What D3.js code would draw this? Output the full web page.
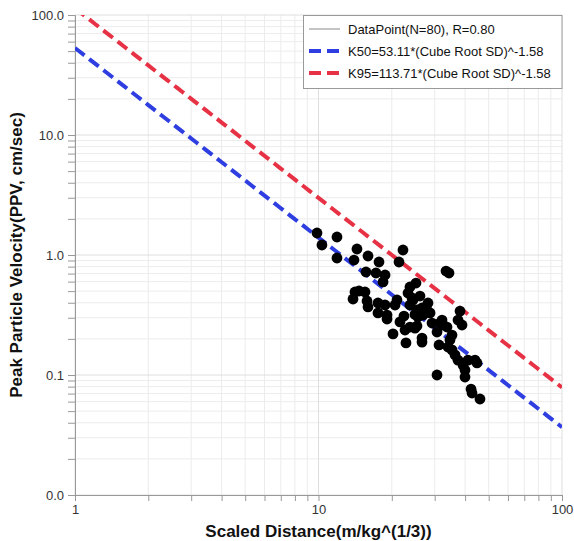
<!DOCTYPE html>
<html><head><meta charset="utf-8">
<script src="https://cdn.jsdelivr.net/npm/d3@7"></script>
<style>body{margin:0;background:#fff;} svg{font-family:"Liberation Sans",Arial,sans-serif;}</style>
</head><body>
<svg id="c" width="574" height="541"></svg>
<script>
const sdValues = [9.86,10.33,11.91,11.91,14.39,13.99,15.97,17.72,15.67,17.22,18.76,18.41,14.12,14.67,15.52,13.86,15.82,15.97,17.55,17.55,19.12,19.12,20.62,21.01,22.23,21.41,23.75,25.14,23.31,24.21,21.61,20.23,22.66,23.75,24.91,25.38,26.61,27.90,28.71,26.87,25.62,29.26,30.67,26.61,22.87,25.38,33.39,34.35,38.12,32.15,32.46,37.41,38.85,35.34,34.03,35.34,36.36,37.41,39.22,39.96,39.96,43.93,44.76,42.30,42.70,46.04,30.67,31.26,26.61,23.75,24.44,31.55,33.71,41.11,28.16,26.11,22.44,34.67,18.76,24.91];
const ppvValues = [1.525,1.211,1.413,0.944,1.122,0.908,0.981,0.874,0.722,0.708,0.681,0.596,0.492,0.501,0.492,0.430,0.414,0.369,0.398,0.329,0.316,0.293,0.383,0.422,1.101,0.874,0.541,0.584,0.482,0.438,0.277,0.220,0.237,0.251,0.246,0.348,0.362,0.348,0.329,0.316,0.304,0.271,0.228,0.203,0.185,0.256,0.735,0.708,0.341,0.287,0.261,0.287,0.261,0.215,0.171,0.162,0.147,0.133,0.121,0.110,0.0962,0.133,0.126,0.0764,0.0708,0.0631,0.100,0.178,0.188,0.383,0.422,0.271,0.251,0.133,0.398,0.455,0.310,0.196,0.383,0.320];
const fitK = [53.11, 113.71];
const fitExp = -1.58;
const fitNames = ["K50=53.11*(Cube Root SD)^-1.58","K95=113.71*(Cube Root SD)^-1.58"];
const fitColors = ["#2e3ee0","#e63244"];
const legendFirst = "DataPoint(N=80), R=0.80";
const xTickLabels = ["1","10","100"];
const yTickLabels = ["0.0","0.1","1.0","10.0","100.0"];
const xTitle = "Scaled Distance(m/kg^(1/3))";
const yTitle = "Peak Particle Velocity(PPV, cm/sec)";

const svg = d3.select("#c");
const L=75,R=562,T=15,B=495;
const x = d3.scaleLog().domain([1,100]).range([L,R]);
const y = d3.scaleLog().domain([0.01,100]).range([B,T]);

// grid
const xMinor=[], yMinor=[];
for (let d of [1,10]) for (let k=2;k<=9;k++) xMinor.push(d*k);
for (let d of [0.01,0.1,1,10]) for (let k=2;k<=9;k++) yMinor.push(d*k);
const xMajor=[1,10,100], yMajor=[0.01,0.1,1,10,100];
const g = svg.append("g");
g.selectAll(".xm").data(xMinor).join("line").attr("x1",d=>x(d)).attr("x2",d=>x(d)).attr("y1",T).attr("y2",B).attr("stroke","#ececec");
g.selectAll(".ym").data(yMinor).join("line").attr("y1",d=>y(d)).attr("y2",d=>y(d)).attr("x1",L).attr("x2",R).attr("stroke","#ececec");
g.selectAll(".xM").data(xMajor).join("line").attr("x1",d=>x(d)).attr("x2",d=>x(d)).attr("y1",T).attr("y2",B).attr("stroke","#dedede");
g.selectAll(".yM").data(yMajor).join("line").attr("y1",d=>y(d)).attr("y2",d=>y(d)).attr("x1",L).attr("x2",R).attr("stroke","#dedede");

// axes
const xAxis = d3.axisBottom(x).tickValues(xMajor.concat(xMinor)).tickSize(6).tickFormat(d=>{const i=xMajor.indexOf(d);return i>=0?xTickLabels[i]:"";});
const yAxis = d3.axisLeft(y).tickValues(yMajor.concat(yMinor)).tickSize(7).tickFormat(d=>{const i=yMajor.indexOf(d);return i>=0?yTickLabels[i]:"";});
const gx = svg.append("g").attr("transform",`translate(0,${B})`).call(xAxis);
const gy = svg.append("g").attr("transform",`translate(${L},0)`).call(yAxis);
[gx,gy].forEach(a=>{a.select(".domain").attr("stroke","#999");a.selectAll(".tick line").attr("stroke","#999");a.selectAll("text").attr("fill","#333").style("font-size","13px").style("font-family","'Liberation Sans',Arial,sans-serif");});
gx.selectAll("text").attr("dy","0.8em");
gy.selectAll("text").attr("dx","-1px");

// clip
svg.append("clipPath").attr("id","clip").append("rect").attr("x",L).attr("y",T).attr("width",R-L).attr("height",B-T);

// fit lines
const xs = d3.range(0,101).map(i=>Math.pow(10,i/50));
const line = d3.line().x(d=>x(d[0])).y(d=>y(d[1]));
fitK.forEach((k,i)=>{
  svg.append("path").attr("clip-path","url(#clip)").datum(xs.map(v=>[v,k*Math.pow(v,fitExp)]))
    .attr("d",line).attr("fill","none").attr("stroke",fitColors[i]).attr("stroke-width",4).attr("stroke-dasharray","12,6");
});

// points
svg.append("g").selectAll("circle").data(sdValues.map((v,i)=>[v,ppvValues[i]])).join("circle")
  .attr("cx",d=>x(d[0])).attr("cy",d=>y(d[1])).attr("r",5.4).attr("fill","#000");

// legend
const lg = svg.append("g");
lg.append("rect").attr("x",303.5).attr("y",T+0.5).attr("width",R-303.5).attr("height",73).attr("fill","#fff").attr("stroke","#999");
const rows=[{t:legendFirst,c:"#888",w:1,dash:null},{t:fitNames[0],c:fitColors[0],w:4,dash:"12,6"},{t:fitNames[1],c:fitColors[1],w:4,dash:"12,6"}];
rows.forEach((r,i)=>{
  const yy=T+14+i*22;
  lg.append("line").attr("x1",309).attr("x2",340).attr("y1",yy).attr("y2",yy).attr("stroke",r.c).attr("stroke-width",r.w).attr("stroke-dasharray",r.dash);
  lg.append("text").attr("x",348).attr("y",yy+4.5).text(r.t).attr("fill","#111").style("font-size","13px");
});

// titles
svg.append("text").attr("x",(L+R)/2).attr("y",537).attr("text-anchor","middle").style("font-size","17px").style("font-weight","bold").attr("fill","#111").text(xTitle);
svg.append("text").attr("transform",`translate(22,${(T+B)/2}) rotate(-90)`).attr("text-anchor","middle").style("font-size","17px").style("font-weight","bold").attr("fill","#111").text(yTitle);
</script>
</body></html>
